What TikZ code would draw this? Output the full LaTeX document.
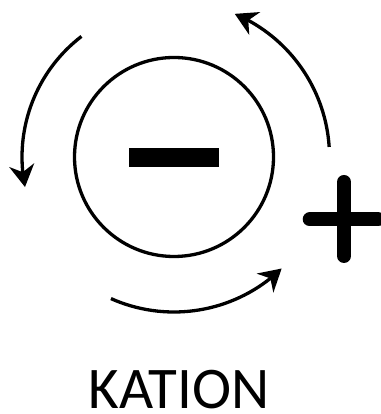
\documentclass[tikz,border=0pt]{standalone}
\usepackage{fontspec}
\setmainfont{Carlito}
\usetikzlibrary{arrows.meta,bending}
\begin{document}
\begin{tikzpicture}[x=1pt,y=1pt,
  ring/.style={line width=3.3pt},
  turn/.style={line width=3.3pt,-{Stealth[length=22pt,width=25pt,inset=7pt]}},
  bar/.style={line width=14pt,line cap=round}]
\useasboundingbox (0,0) rectangle (380,414);
\coordinate (c) at (174,257);
% ion circle
\draw[ring] (c) circle[radius=99.5];
% minus sign
\fill (129,247.3) rectangle (219.3,265.7);
% plus sign
\draw[bar] (344,232) -- (344,158);
\draw[bar] (309.7,194.5) -- (378,194.5);
% rotating arrows
\draw[turn] ([shift={(127.5:152)}]c) arc[start angle=127.5,end angle=191.4,radius=152];
\draw[turn] ([shift={(3.7:155.5)}]c) arc[start angle=3.7,end angle=67,radius=155.5];
\draw[turn] ([shift={(246:155)}]c) arc[start angle=246,end angle=314,radius=155];
% label
\node[anchor=base,inner sep=0pt,font=\fontsize{59}{61}\selectfont] (lbl) at (179,5.5) {KATION};
\end{tikzpicture}
\end{document}
